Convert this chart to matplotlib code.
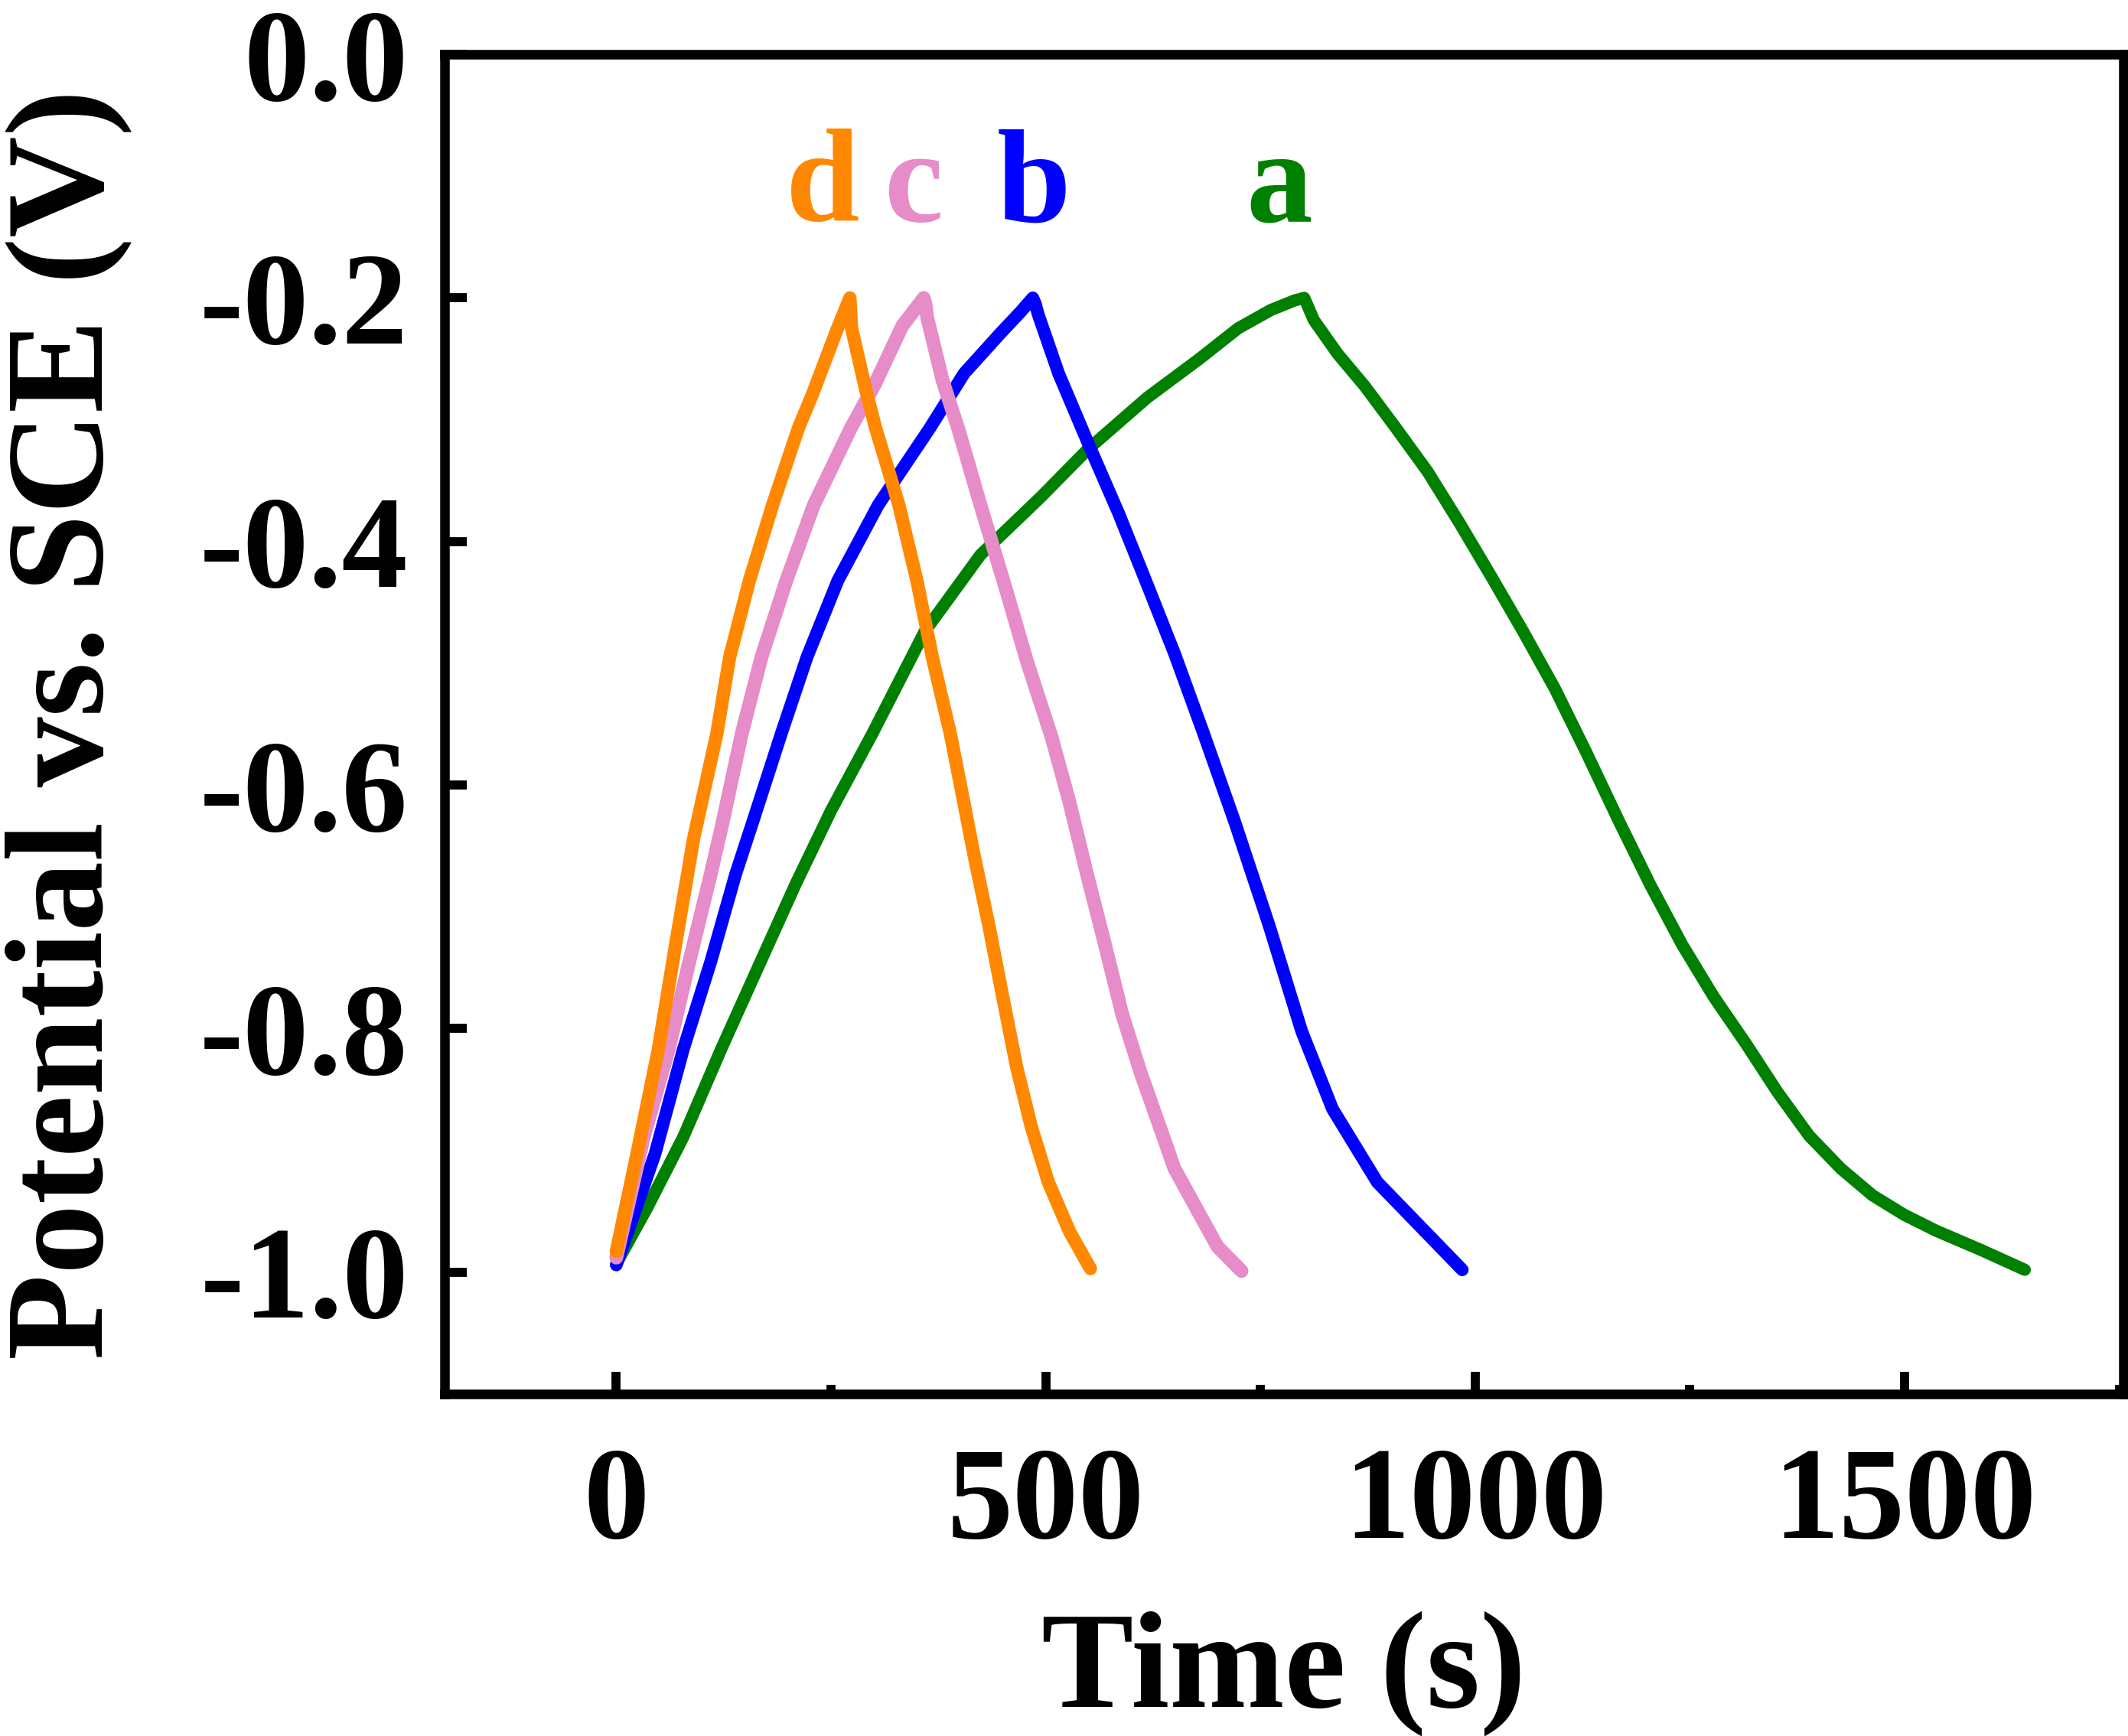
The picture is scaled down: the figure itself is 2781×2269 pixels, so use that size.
import matplotlib
matplotlib.use("Agg")
import matplotlib.pyplot as plt
from matplotlib.ticker import MultipleLocator

# charge / discharge curves (time in s, potential in V)
a_t = [0, 36, 78, 122, 168, 209, 250, 298, 359, 424, 495, 548, 618, 679, 724,
       762, 790, 801,
       806, 812, 840, 871, 908, 945, 982, 1019, 1056, 1093, 1130, 1167, 1204, 1241,
       1278, 1315, 1352, 1389, 1426, 1463, 1500, 1537, 1590, 1640]
a_v = [-0.993, -0.947, -0.889, -0.817, -0.745, -0.681, -0.621, -0.558, -0.474, -0.411,
       -0.363, -0.325, -0.282, -0.250, -0.225, -0.210, -0.202, -0.200,
       -0.208, -0.218, -0.246, -0.272, -0.307, -0.343, -0.385, -0.429, -0.474, -0.521,
       -0.574, -0.629, -0.682, -0.731, -0.774, -0.812, -0.852, -0.888, -0.915, -0.937,
       -0.953, -0.966, -0.982, -0.998]

b_t = [0, 45, 78, 110, 139, 159, 192, 222, 258, 305, 365, 405, 446, 470, 485,
       488, 491, 515, 548, 585, 618, 650, 683, 720, 760, 798, 834, 886, 930, 985]
b_v = [-0.994, -0.903, -0.817, -0.745, -0.673, -0.630, -0.558, -0.495, -0.432, -0.370,
       -0.307, -0.262, -0.230, -0.212, -0.200,
       -0.205, -0.213, -0.262, -0.317, -0.377, -0.435, -0.492, -0.556, -0.630, -0.715,
       -0.802, -0.866, -0.926, -0.958, -0.998]

c_t = [0, 32, 61, 85, 110, 124, 146, 169, 198, 230, 273, 301, 333, 358,
       360, 362, 380, 398, 424, 454, 478, 507, 528, 548, 569, 589, 610, 630, 650,
       700, 728]
c_v = [-0.988, -0.889, -0.817, -0.745, -0.673, -0.630, -0.558, -0.495, -0.432, -0.370,
       -0.307, -0.271, -0.223, -0.200,
       -0.205, -0.216, -0.268, -0.307, -0.370, -0.440, -0.498, -0.561, -0.615, -0.673,
       -0.731, -0.788, -0.835, -0.875, -0.915, -0.979, -0.999]

d_t = [0, 24, 49, 69, 90, 117, 132, 155, 182, 212, 229, 257, 272,
       274, 290, 302, 329, 350, 368, 389, 401, 417, 434, 450, 466, 483, 503, 528, 552]
d_v = [-0.983, -0.903, -0.817, -0.731, -0.644, -0.558, -0.495, -0.432, -0.370, -0.307,
       -0.278, -0.226, -0.200,
       -0.225, -0.274, -0.307, -0.370, -0.432, -0.495, -0.558, -0.601, -0.659, -0.716,
       -0.774, -0.831, -0.880, -0.926, -0.967, -0.997]

curve_names = ["a", "b", "c", "d"]
curve_colors = ["#008000", "#0000FF", "#E68CC8", "#FF8800"]
curve_widths = [11.5, 12, 13, 12.5]
label_x = [772, 486, 346, 240]
label_y = -0.137

x_ticks = [0, 500, 1000, 1500]
y_ticks = [0.0, -0.2, -0.4, -0.6, -0.8, -1.0]
y_tick_labels = ["0.0", "-0.2", "-0.4", "-0.6", "-0.8", "-1.0"]

plt.rcParams['font.family'] = ['Liberation Serif', 'DejaVu Serif']
plt.rcParams['font.weight'] = 'bold'
plt.rcParams['axes.unicode_minus'] = False

fig = plt.figure(figsize=(27.81, 22.69), dpi=100)
ax = fig.add_axes([0.2089, 0.197, 0.789, 0.7717])

series = [(a_t, a_v), (b_t, b_v), (c_t, c_v), (d_t, d_v)]
for (t, v), name, col, lw, lx in zip(series, curve_names, curve_colors, curve_widths, label_x):
    ax.plot(t, v, color=col, lw=lw, solid_capstyle='round', solid_joinstyle='round')
    ax.text(lx, label_y, name, color=col, fontsize=125, fontweight='bold',
            ha='center', va='baseline')

ax.set_xlim(-200, 1755)
ax.set_ylim(-1.1, 0.0)
ax.set_xticks(x_ticks)
ax.xaxis.set_minor_locator(MultipleLocator(250))
ax.set_yticks(y_ticks)
ax.set_yticklabels(y_tick_labels)

for sp in ax.spines.values():
    sp.set_linewidth(9)
ax.tick_params(axis='both', which='major', direction='in', length=21, width=8.5,
               labelsize=124)
ax.tick_params(axis='x', which='major', pad=50)
ax.tick_params(axis='y', which='major', pad=34)
ax.tick_params(axis='x', which='minor', direction='in', length=9, width=8.5)

ax.set_xlabel("Time (s)", fontsize=130, fontweight='bold')
ax.set_ylabel("Potential vs. SCE (V)", fontsize=132, fontweight='bold')
ax.xaxis.set_label_coords(0.5, -0.1616)
ax.yaxis.set_label_coords(-0.1864, 0.5)

fig.savefig("out.png", dpi=100)
